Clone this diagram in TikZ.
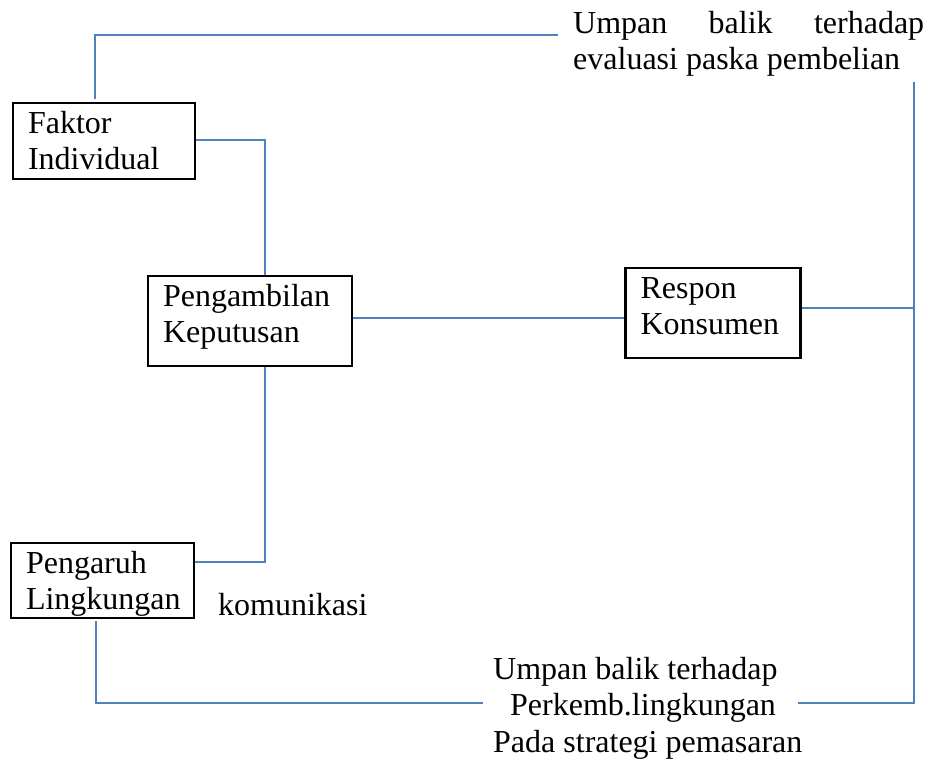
\documentclass[tikz,border=0pt]{standalone}
\usepackage{fontspec}
\setmainfont{Liberation Serif}
\usetikzlibrary{calc}
\definecolor{linkblue}{HTML}{4F81BD}

% text block of a framed box: width, height, lines (first baseline 30pt below the top)
\newcommand{\boxtxt}[3]{\parbox[c][#2][t]{#1}{\raggedright\leftskip=15pt\rule{0pt}{30pt}#3}}

\tikzset{
  box/.style={draw=black, line width=2.2pt, rectangle, inner sep=0pt},
  link/.style={draw=linkblue, line width=1.8pt},
  lbl/.style={inner sep=0pt, anchor=base west},
}

\begin{document}
\begin{tikzpicture}[x=1pt,y=-1pt]
\useasboundingbox (0,0) rectangle (934,761);
\fontsize{32}{36.5}\selectfont

% boxes
\node[box] (fak)  at (104,141)   {\boxtxt{182pt}{76pt}{Faktor\\Individual}};
\node[box] (peng) at (250,321)   {\boxtxt{204pt}{90pt}{Pengambilan\\Keputusan}};
\node[box] (resp) at (713,313)   {\boxtxt{175pt}{90pt}{Respon\\Konsumen}};
\node[box] (pgr)  at (102.5,580.5) {\boxtxt{183pt}{75pt}{Pengaruh\\Lingkungan}};

% free labels
\node[lbl] (topfb) at (573,33)
  {\parbox[t]{351pt}{\makebox[351pt][s]{Umpan balik terhadap}\\evaluasi paska pembelian}};
\node[lbl] (kom) at (218,615) {komunikasi};
\node[lbl] (botfb) at (493,679)
  {\parbox[t]{350pt}{Umpan balik terhadap\\\hspace*{17pt}Perkemb.lingkungan\\Pada strategi pemasaran}};

% bend and end points of the feedback loops
\coordinate (topbend) at (95,35);
\coordinate (topend)  at (558,35);
\coordinate (busT)    at (914,82);
\coordinate (busB)    at (914,703);
\coordinate (botR)    at (798,703);
\coordinate (botbend) at (96,703);
\coordinate (botend)  at (483,703);

% connectors
\draw[link] ([yshift=3pt]fak.north -| topbend) -- (topbend) -- (topend);
\draw[link] ([yshift=1pt]fak.east) -| ([xshift=15pt]peng.north);
\draw[link] ([yshift=3pt]peng.east) -- ([yshift=3pt]peng.east -| resp.west);
\draw[link] ([yshift=5pt]resp.east) -- ([yshift=5pt]resp.east -| busT);
\draw[link] (busT) -- (busB) -- (botR);
\draw[link] ([xshift=15pt]peng.south) |- ([yshift=18.5pt]pgr.east);
\draw[link] ([yshift=-2pt]pgr.south -| botbend) -- (botbend) -- (botend);
\end{tikzpicture}
\end{document}
